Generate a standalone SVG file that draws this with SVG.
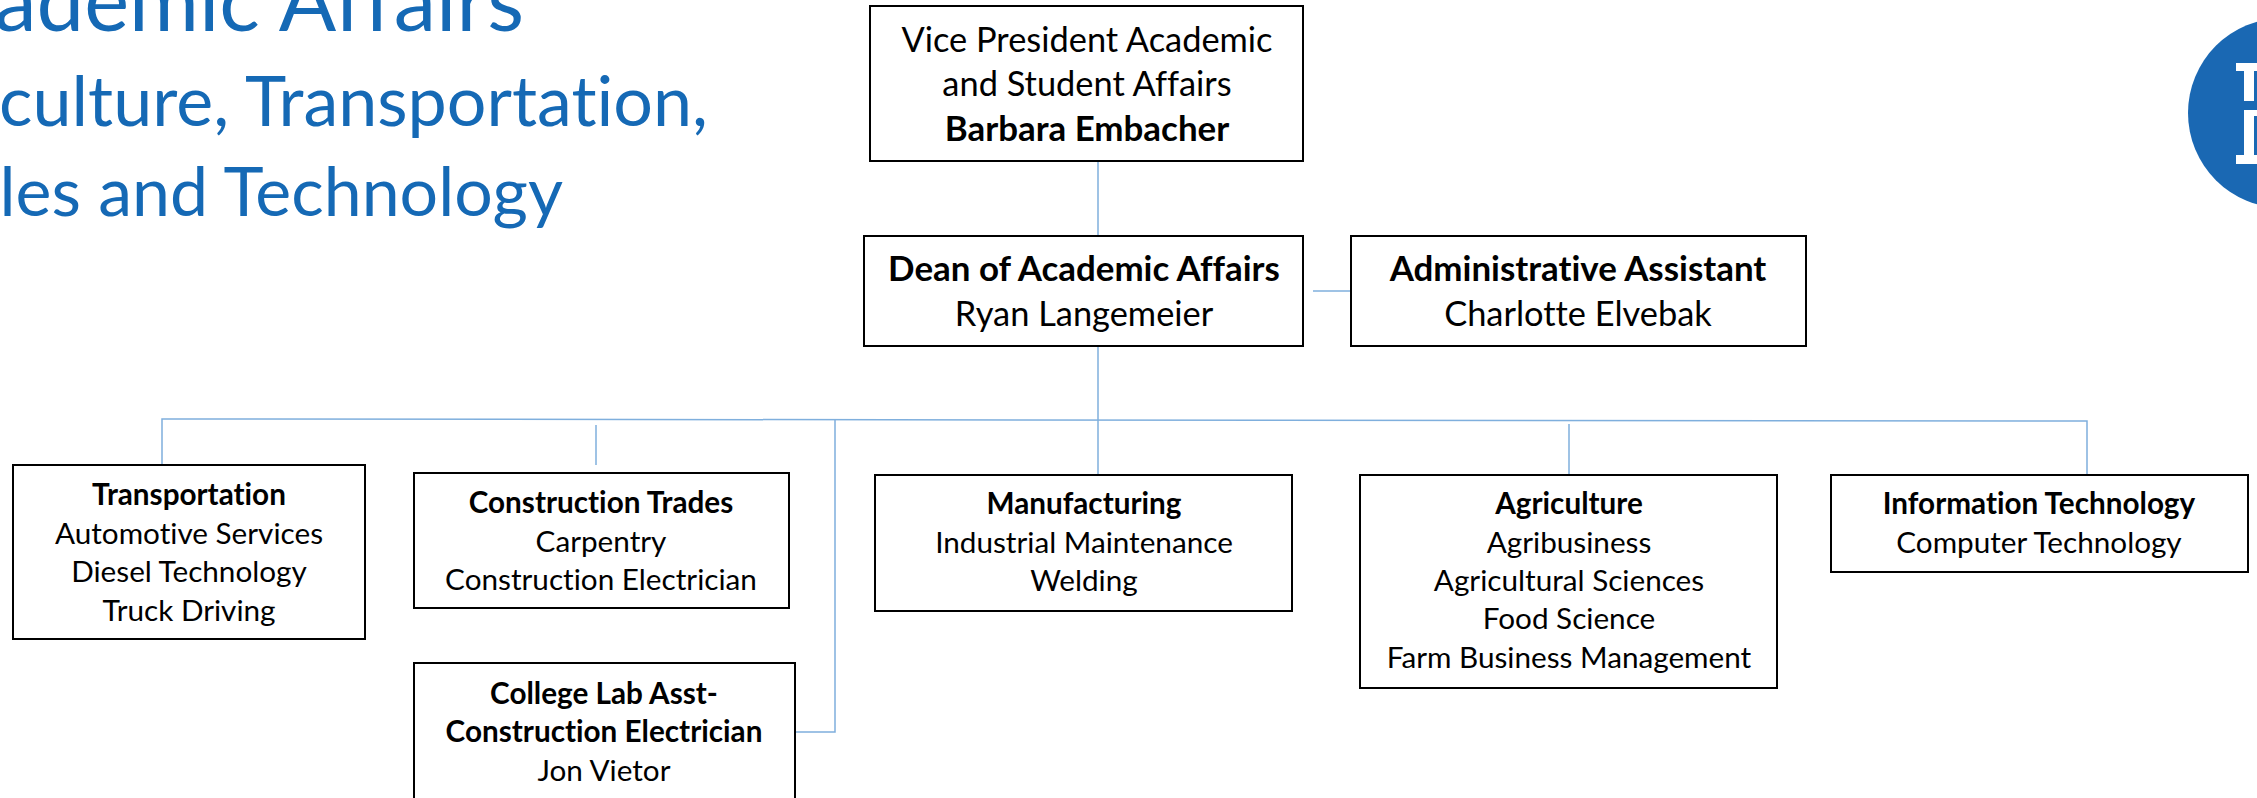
<svg xmlns="http://www.w3.org/2000/svg" width="2257" height="798" viewBox="0 0 2257 798">
<style>
text{font-family:"Lato","Liberation Sans",sans-serif;fill:#000;font-size:29.7px;text-anchor:middle;font-variant-ligatures:none}
.b{font-weight:700}
.l{font-size:34.4px}
.l.b{font-size:34.9px}
.t{fill:#1569b5;text-anchor:end}
.box{fill:#fff;stroke:#000;stroke-width:2}
.c{fill:none;stroke:#7fafdd;stroke-width:1.5}
.w{fill:#fff}
</style>
<rect width="2257" height="798" fill="#fff"/>
<g id="title">
<text class="t" x="524" y="31" style="font-size:85px">ademic Affairs</text>
<text class="t" x="708" y="126" style="font-size:70px">culture, Transportation,</text>
<text class="t" x="563" y="216" style="font-size:68px">les and Technology</text>
</g>
<g id="logo">
<circle cx="2283" cy="113" r="95" fill="#1a68b3"/>
<rect class="w" x="2236" y="63" width="21" height="8"/>
<rect class="w" x="2244" y="71" width="10" height="30"/>
<rect class="w" x="2244" y="110" width="13" height="6"/>
<rect class="w" x="2244" y="116" width="10" height="39"/>
<rect class="w" x="2236" y="155" width="21" height="9"/>
</g>
<g id="connectors">
<path class="c" d="M1098 156V236"/>
<path class="c" d="M1313 291H1351"/>
<path class="c" d="M1098 343V474"/>
<path class="c" d="M162 465V419L2087 421V474"/>
<path class="c" d="M596 425V465"/>
<path class="c" d="M835 420V732H795"/>
<path class="c" d="M1569 424V475"/>
</g>
<g id="vp"><rect class="box" x="870" y="6" width="433" height="155"/>
<text class="l" x="1087" y="52">Vice President Academic</text><text class="l" x="1087" y="96">and Student Affairs</text><text class="l b" x="1087" y="141">Barbara Embacher</text></g>
<g id="dean"><rect class="box" x="864" y="236" width="439" height="110"/>
<text class="l b" x="1084" y="281">Dean of Academic Affairs</text><text class="l" x="1084" y="326">Ryan Langemeier</text></g>
<g id="admin"><rect class="box" x="1351" y="236" width="455" height="110"/>
<text class="l b" x="1578" y="281">Administrative Assistant</text><text class="l" x="1578" y="326">Charlotte Elvebak</text></g>
<g id="transportation"><rect class="box" x="13" y="465" width="352" height="174"/>
<text class="b" x="189" y="505">Transportation</text><text x="189" y="544">Automotive Services</text><text x="189" y="582">Diesel Technology</text><text x="189" y="621">Truck Driving</text></g>
<g id="construction"><rect class="box" x="414" y="473" width="375" height="135"/>
<text class="b" x="601" y="513">Construction Trades</text><text x="601" y="552">Carpentry</text><text x="601" y="590">Construction Electrician</text></g>
<g id="labasst"><rect class="box" x="414" y="663" width="381" height="150"/>
<text class="b" x="604" y="704">College Lab Asst-</text><text class="b" x="604" y="742">Construction Electrician</text><text x="604" y="781">Jon Vietor</text></g>
<g id="manufacturing"><rect class="box" x="875" y="475" width="417" height="136"/>
<text class="b" x="1084" y="514">Manufacturing</text><text x="1084" y="553">Industrial Maintenance</text><text x="1084" y="591">Welding</text></g>
<g id="agriculture"><rect class="box" x="1360" y="475" width="417" height="213"/>
<text class="b" x="1569" y="514">Agriculture</text><text x="1569" y="553">Agribusiness</text><text x="1569" y="591">Agricultural Sciences</text><text x="1569" y="629">Food Science</text><text x="1569" y="668">Farm Business Management</text></g>
<g id="it"><rect class="box" x="1831" y="475" width="417" height="97"/>
<text class="b" x="2039" y="514">Information Technology</text><text x="2039" y="553">Computer Technology</text></g>
</svg>
